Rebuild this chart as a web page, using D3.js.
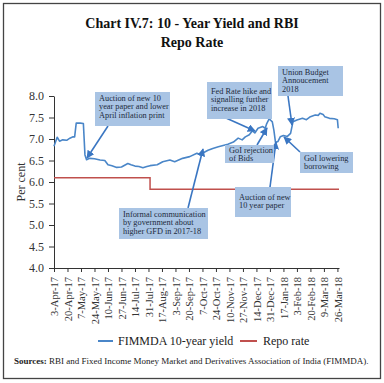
<!DOCTYPE html>
<html><head><meta charset="utf-8">
<script src="https://cdn.jsdelivr.net/npm/d3@7"></script>
<style>
html,body{margin:0;padding:0;background:#fff;}
svg{display:block;}
text{font-family:"Liberation Serif","DejaVu Serif",serif;}
</style></head>
<body><svg id="c" width="384" height="383"></svg>
<script>
const yieldDates = ["2017-04-03","2017-04-07","2017-04-10","2017-04-14","2017-04-19","2017-04-23","2017-04-27","2017-04-29","2017-05-01","2017-05-06","2017-05-10","2017-05-12","2017-05-14","2017-05-18","2017-05-24","2017-05-31","2017-06-06","2017-06-10","2017-06-15","2017-06-21","2017-06-27","2017-07-05","2017-07-09","2017-07-14","2017-07-19","2017-07-24","2017-07-29","2017-08-02","2017-08-11","2017-08-18","2017-08-27","2017-09-02","2017-09-12","2017-09-21","2017-09-30","2017-10-04","2017-10-14","2017-10-20","2017-10-27","2017-11-02","2017-11-08","2017-11-15","2017-11-21","2017-11-26","2017-11-30","2017-12-05","2017-12-09","2017-12-12","2017-12-16","2017-12-22","2017-12-25","2017-12-27","2017-12-30","2018-01-03","2018-01-05","2018-01-07","2018-01-10","2018-01-13","2018-01-17","2018-01-22","2018-01-26","2018-01-29","2018-02-03","2018-02-10","2018-02-15","2018-02-20","2018-02-26","2018-03-02","2018-03-04","2018-03-08","2018-03-10","2018-03-16","2018-03-22","2018-03-26","2018-03-27"];
const yieldValues = [6.83,7.04,6.95,6.98,6.97,7.02,7.05,7.05,7.37,7.37,7.36,6.63,6.52,6.55,6.54,6.51,6.50,6.40,6.38,6.34,6.35,6.43,6.40,6.37,6.36,6.33,6.36,6.38,6.40,6.47,6.51,6.47,6.55,6.59,6.67,6.64,6.74,6.78,6.82,6.85,6.88,6.93,7.02,6.98,7.05,7.10,7.19,7.14,7.25,7.29,7.25,7.36,7.47,7.40,7.20,6.92,6.94,7.05,7.08,7.06,7.13,7.40,7.44,7.48,7.45,7.52,7.56,7.55,7.60,7.57,7.52,7.48,7.47,7.45,7.25];
const repoDates = ["2017-04-03","2017-08-02","2017-08-02","2018-03-28"];
const repoValues = [6.10,6.10,5.83,5.83];
const yTicks = [4.0,4.5,5.0,5.5,6.0,6.5,7.0,7.5,8.0];
const xTickLabels = ["3-Apr-17","20-Apr-17","7-May-17","24-May-17","10-Jun-17","27-Jun-17","14-Jul-17","31-Jul-17","17-Aug-17","3-Sep-17","20-Sep-17","7-Oct-17","24-Oct-17","10-Nov-17","27-Nov-17","14-Dec-17","31-Dec-17","17-Jan-18","3-Feb-18","20-Feb-18","9-Mar-18","26-Mar-18"];
const seriesNames = ["FIMMDA 10-year yield","Repo rate"];
const seriesColors = ["#4a86c8","#c0504d"];

const parse = d3.timeParse("%Y-%m-%d");
const parseTick = d3.timeParse("%-d-%b-%y");
const svg = d3.select("#c");

// border
svg.append("rect").attr("x",3.5).attr("y",3.5).attr("width",377).attr("height",375)
  .attr("fill","#fff").attr("stroke","#444").attr("stroke-width",1.3);

// title
const title = svg.append("text").attr("text-anchor","middle").attr("font-weight","bold")
  .attr("font-size",14).attr("fill","#111");
title.append("tspan").attr("x",192).attr("y",28).text("Chart IV.7: 10 - Year Yield and RBI");
title.append("tspan").attr("x",192).attr("y",47).text("Repo Rate");

const x = d3.scaleTime().domain([parse("2017-04-03"), parse("2018-03-28")]).range([54, 339]);
const y = d3.scaleLinear().domain([4,8]).range([268,96]);

const axisColor = "#333";
const yAxis = svg.append("g").attr("transform","translate(54,0)")
  .call(d3.axisLeft(y).tickValues(yTicks).tickFormat(d3.format(".1f")).tickSize(5).tickSizeOuter(0));
yAxis.selectAll("text").attr("font-size",12).attr("fill","#333").attr("font-family","Liberation Serif, serif").attr("dx",-2);
yAxis.selectAll("line,path").attr("stroke",axisColor);

const xAxis = svg.append("g").attr("transform","translate(0,268)")
  .call(d3.axisBottom(x).tickValues(xTickLabels.map(parseTick)).tickFormat(d3.timeFormat("%-d-%b-%y")).tickSize(4).tickSizeOuter(0));
xAxis.selectAll("line,path").attr("stroke",axisColor);
xAxis.selectAll("text").attr("font-size",10.5).attr("fill","#333").attr("font-family","Liberation Serif, serif")
  .attr("text-anchor","end").attr("transform","rotate(-90)").attr("x",-9).attr("y",0).attr("dy","0.35em");

svg.append("text").attr("transform","translate(25,182) rotate(-90)").attr("text-anchor","middle")
  .attr("font-size",12).attr("fill","#333").text("Per cent");

const line = d3.line().x(d=>x(d[0])).y(d=>y(d[1]));
svg.append("path").datum(repoDates.map((d,i)=>[parse(d),repoValues[i]]))
  .attr("d",line).attr("fill","none").attr("stroke",seriesColors[1]).attr("stroke-width",1.5);
svg.append("path").datum(yieldDates.map((d,i)=>[parse(d),yieldValues[i]]))
  .attr("d",line).attr("fill","none").attr("stroke",seriesColors[0]).attr("stroke-width",1.6).attr("stroke-linejoin","round");

// arrow marker
const arrowColor = "#3a76c2";
svg.append("defs").append("marker").attr("id","ah").attr("viewBox","0 0 10 10").attr("refX",9).attr("refY",5)
  .attr("markerWidth",5).attr("markerHeight",5).attr("orient","auto")
  .append("path").attr("d","M0,0 L10,5 L0,10 z").attr("fill",arrowColor);

const notes = [
  {box:[95,92,75,34], lines:["Auction of new 10","year paper and lower","April inflation print"], base:101, arrow:[108,126,87,158]},
  {box:[119,208,89,31], lines:["Informal communication","by government about","higher GFD in 2017-18"], base:217, arrow:[188,208,203,149]},
  {box:[207,82,65,37], lines:["Fed  Rate hike and","signalling further","increase in 2018"], base:94, arrow:[226,118,255,131]},
  {box:[225,145,49,18], lines:["GoI rejection","of Bids"], base:153, arrow:[257,145,267,128]},
  {box:[278,66,65,30], lines:["Union Budget","Annoucement","2018"], base:75, arrow:[288,96,292,125]},
  {box:[300,152,53,21], lines:["GoI lowering","borrowing"], base:160.5, arrow:[300,152,284,137]},
  {box:[235,187,56,30], lines:["Auction of new","10 year  paper"], base:200, arrow:[270,187,276,142]}
];
notes.forEach(n=>{
  svg.append("line").attr("x1",n.arrow[0]).attr("y1",n.arrow[1]).attr("x2",n.arrow[2]).attr("y2",n.arrow[3])
    .attr("stroke",arrowColor).attr("stroke-width",1.6).attr("marker-end","url(#ah)");
});
notes.forEach(n=>{
  svg.append("rect").attr("x",n.box[0]).attr("y",n.box[1]).attr("width",n.box[2]).attr("height",n.box[3])
    .attr("fill","#a9c4e4");
  const t = svg.append("text").attr("font-size",8.3).attr("fill","#1d2b3c");
  n.lines.forEach((l,i)=>t.append("tspan").attr("x",n.box[0]+4).attr("y",n.base+i*8.3).text(l));
});

// legend
const lg = svg.append("g");
[[98,113,118],[240,257,263]].forEach((p,i)=>{
  lg.append("line").attr("x1",p[0]).attr("x2",p[1]).attr("y1",341).attr("y2",341)
    .attr("stroke",seriesColors[i]).attr("stroke-width",2);
  lg.append("text").attr("x",p[2]).attr("y",345).attr("font-size",12).attr("fill","#222").text(seriesNames[i]);
});

// sources
const src = svg.append("text").attr("x",14).attr("y",364).attr("font-size",9).attr("fill","#222");
src.append("tspan").attr("font-weight","bold").text("Sources:");
src.append("tspan").text(" RBI and Fixed Income Money Market and Derivatives Association of India (FIMMDA).");
</script></body></html>
